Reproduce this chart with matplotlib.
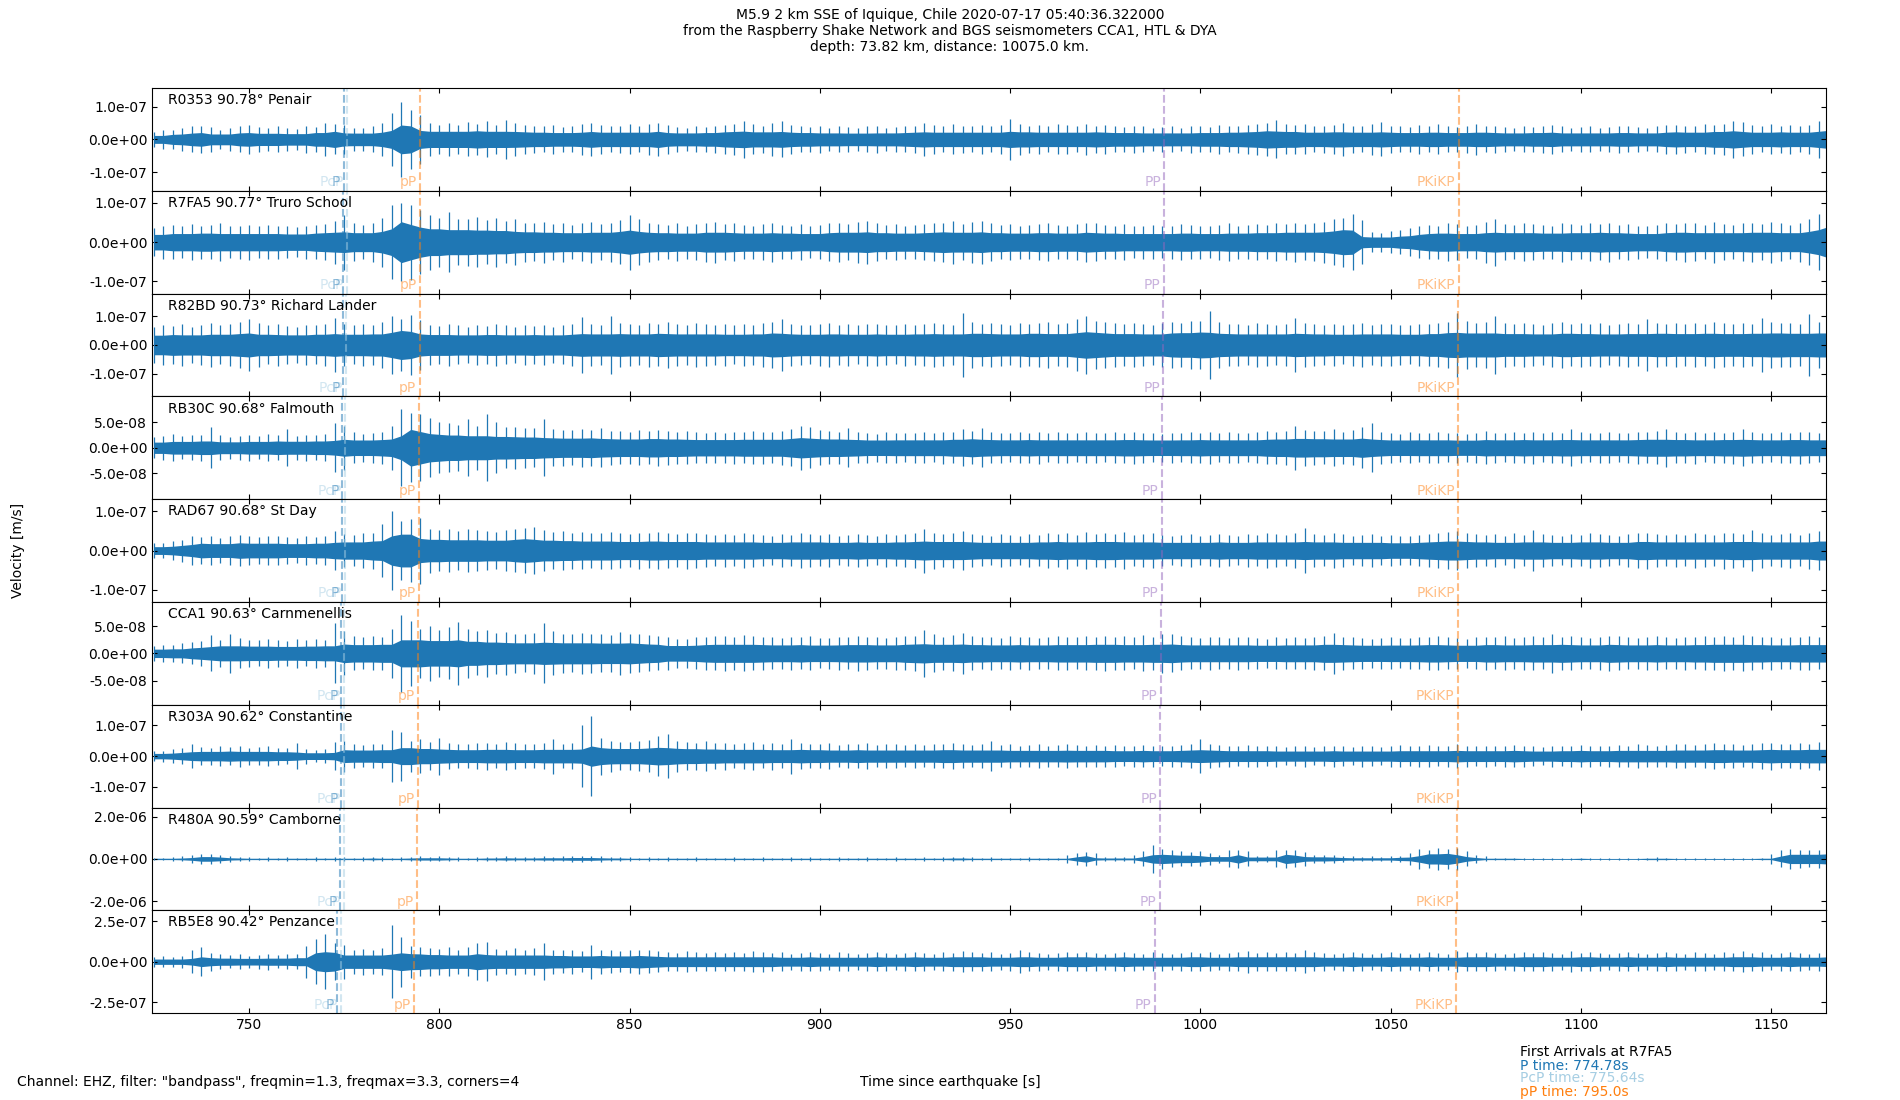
"""Nine-station seismogram section for the M5.9 Iquique event."""
import matplotlib

matplotlib.use("Agg")
import matplotlib.pyplot as plt
import matplotlib.transforms as mtransforms
import numpy as np
from matplotlib.ticker import FormatStrFormatter

# station metadata, top to bottom
STATIONS = ["R0353", "R7FA5", "R82BD", "RB30C", "RAD67", "CCA1", "R303A", "R480A", "RB5E8"]
DISTANCES = [90.78, 90.77, 90.73, 90.68, 90.68, 90.63, 90.62, 90.59, 90.42]
PLACES = ["Penair", "Truro School", "Richard Lander", "Falmouth", "St Day",
          "Carnmenellis", "Constantine", "Camborne", "Penzance"]
# y tick step (m/s) and half range of each panel, in tick steps
TICK_UNITS = [1e-7, 1e-7, 1e-7, 5e-8, 1e-7, 5e-8, 1e-7, 2e-6, 2.5e-7]
HALF_RANGE = [1.57, 1.31, 1.79, 2.0, 1.31, 1.88, 1.67, 1.22, 1.27]

# arrival times (s) per station
P_TIMES = [774.83, 774.78, 774.60, 774.37, 774.37, 774.14, 774.10, 773.96, 773.18]
PCP_TIMES = [775.68, 775.64, 775.48, 775.27, 775.27, 775.06, 775.02, 774.89, 774.18]
PP_SMALL_TIMES = [795.05, 795.00, 794.81, 794.58, 794.58, 794.35, 794.30, 794.16, 793.37]
PP_TIMES = [990.5, 990.4, 990.2, 989.9, 989.9, 989.6, 989.5, 989.3, 988.0]
PKIKP_TIMES = [1067.9, 1067.9, 1067.8, 1067.7, 1067.7, 1067.6, 1067.6, 1067.5, 1067.2]

# peak trace amplitude every 2.5 s from 725 s to 1165 s, in % of the tick step
AMP_R0353 = [
    22, 28, 30, 35, 40, 42, 38, 30, 36, 40, 45, 38, 34, 40, 36, 32, 42, 38, 50, 46,
    45, 36, 35, 40, 50, 80, 115, 90, 75, 50, 45, 50, 45, 52, 48, 55, 45, 60, 50, 44,
    42, 40, 45, 38, 40, 48, 50, 44, 40, 42, 46, 40, 48, 50, 45, 38, 36, 40, 38, 42,
    44, 48, 56, 46, 42, 50, 55, 44, 40, 38, 42, 36, 40, 38, 35, 40, 42, 36, 38, 40,
    42, 50, 44, 40, 46, 42, 40, 44, 40, 45, 62, 48, 42, 44, 40, 46, 44, 40, 48, 42,
    44, 40, 38, 42, 40, 36, 38, 40, 36, 42, 40, 38, 45, 40, 42, 44, 48, 50, 58, 46,
    44, 46, 40, 42, 44, 50, 42, 40, 48, 52, 42, 40, 38, 44, 40, 46, 40, 38, 42, 48,
    40, 42, 38, 36, 40, 38, 42, 45, 40, 36, 38, 40, 36, 38, 42, 40, 38, 36, 40, 44,
    44, 42, 40, 46, 44, 48, 56, 52, 44, 40, 46, 42, 44, 40, 45, 56, 50,
]
AMP_R7FA5 = [
    36, 42, 44, 40, 46, 42, 44, 48, 40, 42, 45, 40, 44, 42, 40, 38, 42, 44, 46, 55,
    70, 48, 44, 50, 62, 95, 100, 96, 82, 70, 62, 76, 58, 60, 64, 56, 62, 54, 58, 50,
    48, 52, 46, 50, 44, 48, 52, 46, 50, 56, 70, 58, 50, 46, 44, 48, 42, 46, 50, 52,
    46, 48, 44, 42, 46, 50, 44, 42, 46, 40, 44, 48, 50, 46, 52, 55, 48, 44, 46, 42,
    44, 46, 48, 50, 55, 46, 52, 55, 48, 44, 46, 42, 44, 46, 48, 44, 42, 46, 50, 48,
    44, 42, 46, 40, 42, 44, 40, 42, 46, 44, 42, 40, 45, 48, 42, 44, 46, 44, 48, 46,
    50, 46, 48, 52, 58, 62, 72, 56, 26, 24, 28, 30, 36, 40, 44, 42, 48, 46, 40, 44,
    52, 60, 46, 44, 48, 46, 44, 42, 50, 46, 44, 48, 46, 50, 44, 46, 42, 40, 44, 48,
    46, 50, 48, 44, 52, 46, 44, 48, 50, 46, 52, 48, 44, 50, 58, 72, 75,
]
AMP_R82BD = [
    62, 70, 66, 72, 64, 70, 75, 68, 72, 80, 90, 76, 68, 72, 66, 64, 70, 68, 74, 95,
    72, 68, 74, 70, 80, 100, 92, 104, 86, 70, 66, 72, 68, 64, 70, 66, 72, 68, 64, 70,
    66, 70, 64, 68, 72, 96, 74, 70, 100, 78, 72, 70, 76, 74, 80, 72, 70, 76, 74, 70,
    72, 68, 74, 70, 76, 80, 92, 74, 70, 68, 72, 76, 70, 74, 68, 72, 74, 70, 68, 72,
    70, 74, 76, 72, 70, 110, 80, 74, 76, 72, 70, 78, 74, 76, 80, 72, 78, 92, 100, 84,
    80, 76, 72, 78, 74, 70, 76, 80, 78, 82, 85, 120, 80, 74, 72, 70, 76, 72, 70, 74,
    95, 76, 72, 70, 74, 68, 72, 76, 70, 74, 72, 70, 68, 74, 72, 78, 80, 110, 84, 76,
    80, 100, 76, 72, 78, 74, 70, 76, 80, 74, 78, 72, 76, 70, 74, 78, 72, 90, 76, 74,
    76, 72, 78, 74, 80, 76, 72, 78, 74, 95, 80, 76, 78, 74, 108, 80, 76,
]
AMP_RB30C = [
    40, 46, 52, 45, 48, 50, 80, 48, 42, 46, 50, 45, 52, 48, 72, 46, 50, 48, 52, 95,
    85, 60, 55, 58, 62, 85, 150, 135, 130, 115, 100, 95, 90, 110, 85, 130, 100, 80, 82, 78,
    76, 110, 72, 70, 68, 74, 70, 75, 66, 64, 62, 68, 65, 70, 66, 62, 64, 60, 58, 60,
    58, 62, 60, 64, 62, 60, 66, 72, 85, 80, 68, 64, 62, 75, 60, 58, 55, 60, 58, 56,
    58, 60, 56, 62, 60, 72, 64, 75, 60, 58, 56, 60, 58, 62, 56, 60, 58, 56, 60, 58,
    56, 60, 58, 62, 58, 56, 55, 58, 56, 60, 58, 62, 56, 60, 58, 56, 60, 64, 62, 66,
    85, 70, 66, 64, 72, 62, 68, 80, 95, 62, 58, 55, 60, 56, 58, 60, 56, 58, 54, 58,
    65, 58, 56, 60, 58, 62, 56, 60, 58, 72, 60, 56, 58, 60, 56, 58, 62, 60, 64, 74,
    60, 58, 62, 56, 60, 58, 62, 72, 60, 58, 56, 60, 58, 62, 60, 56, 58,
]
AMP_RAD67 = [
    18, 20, 24, 28, 38, 34, 36, 32, 38, 40, 36, 34, 36, 38, 34, 32, 36, 34, 38, 50,
    42, 40, 44, 46, 68, 100, 76, 80, 84, 56, 52, 55, 50, 54, 52, 50, 48, 52, 55, 58,
    60, 52, 48, 50, 46, 48, 44, 46, 48, 44, 42, 46, 44, 48, 44, 42, 46, 44, 42, 40,
    42, 40, 44, 42, 40, 38, 42, 40, 44, 42, 40, 42, 38, 40, 42, 40, 38, 42, 40, 42,
    44, 56, 46, 42, 44, 50, 42, 40, 38, 42, 40, 38, 42, 40, 44, 42, 46, 40, 47, 42,
    44, 42, 47, 40, 42, 44, 40, 38, 40, 42, 38, 40, 42, 40, 38, 42, 40, 44, 42, 40,
    44, 58, 42, 40, 44, 42, 38, 40, 42, 38, 40, 36, 38, 40, 42, 44, 48, 50, 44, 42,
    40, 42, 38, 44, 40, 52, 42, 40, 38, 42, 40, 44, 42, 40, 38, 42, 44, 46, 42, 40,
    42, 40, 44, 42, 40, 46, 44, 42, 52, 44, 40, 42, 44, 40, 46, 50, 44,
]
AMP_CCA1 = [
    28, 32, 30, 36, 40, 45, 66, 50, 72, 55, 50, 48, 52, 50, 46, 52, 48, 54, 50, 110,
    80, 62, 58, 62, 60, 90, 140, 120, 90, 100, 85, 95, 115, 90, 80, 85, 75, 78, 72, 70,
    74, 110, 80, 72, 70, 75, 72, 70, 68, 78, 72, 70, 66, 62, 60, 52, 54, 58, 60, 62,
    64, 60, 66, 62, 60, 58, 56, 60, 58, 62, 55, 56, 60, 58, 65, 60, 58, 56, 60, 62,
    64, 85, 70, 60, 66, 75, 62, 58, 60, 56, 62, 58, 60, 56, 58, 62, 60, 58, 62, 60,
    64, 60, 62, 58, 66, 60, 72, 70, 62, 58, 56, 60, 58, 56, 60, 58, 56, 54, 58, 56,
    58, 56, 60, 62, 76, 60, 58, 56, 54, 56, 58, 55, 56, 58, 60, 62, 58, 56, 54, 58,
    60, 58, 62, 56, 60, 62, 58, 72, 60, 62, 58, 56, 60, 64, 62, 58, 56, 60, 62, 58,
    56, 60, 58, 62, 60, 64, 60, 66, 62, 58, 60, 56, 58, 60, 62, 58, 60,
]
AMP_R303A = [
    16, 18, 22, 26, 38, 30, 28, 32, 30, 34, 28, 30, 32, 28, 26, 42, 24, 20, 22, 45,
    50, 38, 36, 40, 38, 85, 80, 50, 56, 45, 60, 42, 40, 38, 42, 44, 40, 45, 42, 38,
    40, 42, 57, 40, 42, 100, 130, 60, 50, 46, 45, 48, 52, 66, 72, 50, 46, 44, 48, 42,
    44, 40, 42, 46, 40, 44, 38, 57, 42, 40, 38, 42, 36, 40, 38, 42, 36, 38, 40, 36,
    38, 36, 40, 38, 42, 38, 36, 40, 48, 36, 38, 34, 36, 38, 34, 36, 38, 35, 34, 36,
    34, 36, 32, 34, 36, 34, 32, 34, 36, 38, 56, 40, 36, 34, 32, 36, 34, 32, 34, 30,
    32, 34, 30, 32, 34, 32, 30, 34, 32, 30, 34, 36, 32, 34, 36, 32, 34, 38, 34, 32,
    34, 32, 34, 36, 34, 32, 30, 34, 32, 34, 36, 34, 32, 34, 36, 34, 38, 36, 34, 36,
    38, 40, 36, 40, 42, 38, 40, 36, 38, 42, 44, 40, 38, 42, 40, 45, 40,
]
AMP_R480A = [
    3, 3, 4, 6, 10, 11, 12, 10, 8, 5, 4, 3, 4, 3, 4, 3, 3, 4, 3, 4,
    4, 3, 4, 5, 4, 3, 4, 5, 6, 5, 6, 5, 4, 3, 4, 4, 5, 6, 5, 4,
    5, 6, 5, 6, 7, 8, 6, 7, 5, 4, 4, 3, 4, 3, 4, 3, 3, 4, 3, 3,
    3, 4, 3, 3, 4, 3, 3, 4, 3, 4, 3, 3, 4, 3, 3, 4, 3, 3, 4, 3,
    3, 4, 3, 4, 4, 5, 4, 3, 4, 3, 3, 3, 4, 3, 3, 3, 9, 14, 16, 15,
    5, 4, 4, 10, 18, 34, 24, 20, 18, 16, 18, 14, 10, 20, 22, 18, 8, 8, 20, 22,
    20, 16, 10, 9, 9, 8, 6, 5, 6, 5, 7, 8, 14, 24, 22, 26, 24, 26, 18, 10,
    6, 3, 3, 3, 3, 2, 3, 3, 2, 3, 3, 3, 2, 3, 3, 2, 3, 3, 4, 3,
    3, 2, 3, 3, 2, 3, 3, 2, 3, 3, 12, 20, 24, 22, 20, 22, 24,
]
AMP_RB5E8 = [
    12, 14, 12, 15, 28, 36, 22, 18, 16, 18, 15, 17, 20, 16, 18, 18, 40, 55, 68, 45,
    42, 30, 32, 30, 34, 90, 62, 40, 36, 35, 32, 36, 30, 36, 45, 48, 32, 30, 34, 30,
    34, 46, 30, 28, 30, 26, 42, 30, 28, 26, 28, 30, 28, 26, 24, 22, 26, 24, 22, 24,
    22, 24, 22, 26, 25, 22, 24, 20, 22, 24, 22, 20, 24, 22, 20, 22, 24, 22, 20, 22,
    24, 22, 20, 24, 22, 26, 24, 22, 24, 20, 22, 28, 24, 22, 20, 22, 24, 22, 24, 22,
    20, 22, 24, 22, 20, 24, 22, 20, 22, 24, 22, 24, 20, 22, 24, 27, 22, 24, 22, 24,
    22, 28, 24, 22, 20, 22, 24, 22, 20, 22, 24, 22, 20, 22, 24, 22, 20, 26, 24, 22,
    24, 22, 20, 22, 24, 22, 24, 22, 20, 26, 22, 24, 22, 20, 22, 24, 22, 20, 22, 24,
    22, 20, 24, 22, 20, 24, 22, 26, 22, 24, 20, 22, 24, 22, 20, 22, 24,
]
AMPLITUDES = [AMP_R0353, AMP_R7FA5, AMP_R82BD, AMP_RB30C, AMP_RAD67,
              AMP_CCA1, AMP_R303A, AMP_R480A, AMP_RB5E8]
TIMES = np.arange(725.0, 1165.1, 2.5)

TRACE_COLOR = "#1f77b4"
PHASES = [
    ("P", P_TIMES, "#1f77b4"),
    ("PcP", PCP_TIMES, "#a6cee3"),
    ("pP", PP_SMALL_TIMES, "#ff7f0e"),
    ("PP", PP_TIMES, "#9467bd"),
    ("PKiKP", PKIKP_TIMES, "#ff7f0e"),
]


def main():
    """Do Things."""
    fig, axes = plt.subplots(9, 1, sharex=True, figsize=(19, 11), dpi=100)
    fig.subplots_adjust(left=0.080, right=0.961, top=0.920, bottom=0.079, hspace=0)

    for i, ax in enumerate(axes):
        unit = TICK_UNITS[i]
        amp = np.array(AMPLITUDES[i]) / 100.0 * unit
        # dense middle of the trace: don't let single spikes swell it
        padded = np.pad(amp, 1, mode="edge")
        core = 0.55 * np.minimum(np.minimum(padded[:-2], padded[1:-1]), padded[2:])
        ax.fill_between(TIMES, -core, core, color=TRACE_COLOR, lw=0)
        ax.vlines(TIMES, -amp, amp, color=TRACE_COLOR, lw=0.9)
        lim = HALF_RANGE[i] * unit
        ax.set_ylim(-lim, lim)
        ax.set_yticks([-unit, 0, unit])
        ax.yaxis.set_major_formatter(FormatStrFormatter("%.1e"))
        ax.tick_params(direction="in", top=True, right=True, labelsize=10)
        ax.text(0.0096, 0.95, f"{STATIONS[i]} {DISTANCES[i]}° {PLACES[i]}",
                transform=ax.transAxes, ha="left", va="top", fontsize=10)
        trans = mtransforms.blended_transform_factory(ax.transData, ax.transAxes)
        # PcP label first so P sits on top of it
        for name, times, color in [PHASES[1], PHASES[0]] + PHASES[2:]:
            ax.axvline(times[i], color=color, ls="--", lw=1.5, alpha=0.5)
        for name, times, color in [PHASES[1], PHASES[0]] + PHASES[2:]:
            ax.text(times[i] - 0.8, 0.015, name, transform=trans, color=color,
                    alpha=0.5, ha="right", va="bottom", fontsize=10)

    axes[-1].set_xlim(724.5, 1164.4)
    axes[-1].set_xticks([750, 800, 850, 900, 950, 1000, 1050, 1100, 1150])

    fig.text(0.5, 0.993,
             "M5.9 2 km SSE of Iquique, Chile 2020-07-17 05:40:36.322000\n"
             "from the Raspberry Shake Network and BGS seismometers CCA1, HTL & DYA\n"
             "depth: 73.82 km, distance: 10075.0 km.",
             ha="center", va="top", fontsize=10)
    fig.text(0.0096, 0.5, "Velocity [m/s]", rotation=90, ha="center", va="center",
             fontsize=10)
    fig.text(0.5, 0.0166, "Time since earthquake [s]", ha="center", va="center",
             fontsize=10)
    fig.text(0.0092, 0.0166,
             'Channel: EHZ, filter: "bandpass", freqmin=1.3, freqmax=3.3, corners=4',
             ha="left", va="center", fontsize=10)
    fig.text(0.80, 0.0439, "First Arrivals at R7FA5", ha="left", va="center",
             fontsize=10)
    fig.text(0.80, 0.0312, f"P time: {P_TIMES[1]}s", color="#1f77b4",
             ha="left", va="center", fontsize=10)
    fig.text(0.80, 0.0197, f"PcP time: {PCP_TIMES[1]}s", color="#a6cee3",
             ha="left", va="center", fontsize=10)
    fig.text(0.80, 0.0070, f"pP time: {PP_SMALL_TIMES[1]:.1f}s", color="#ff7f0e",
             ha="left", va="center", fontsize=10)

    fig.savefig("out.png")


if __name__ == "__main__":
    main()
